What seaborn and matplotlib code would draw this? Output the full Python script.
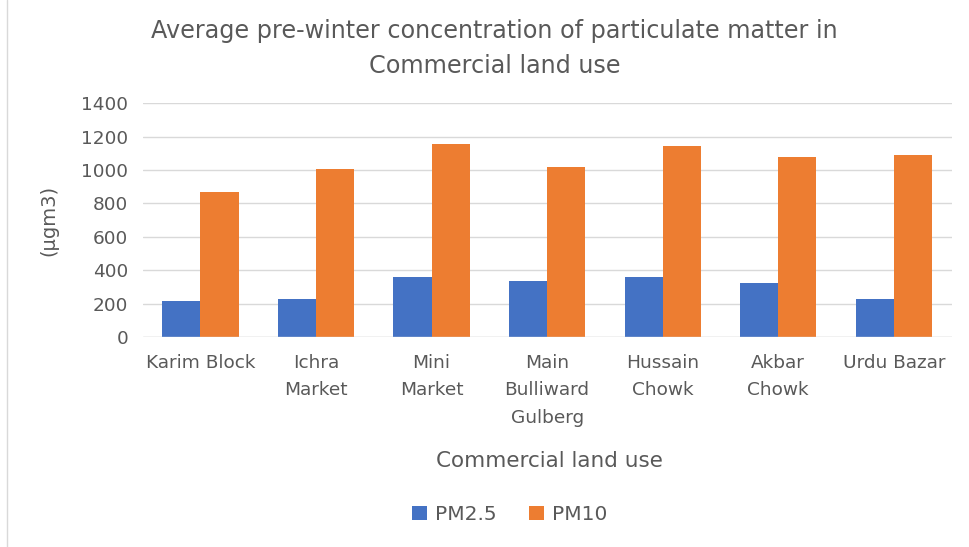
import matplotlib.pyplot as plt
import seaborn as sns
import pandas as pd

# Data
sites = ["Karim Block", "Ichra\nMarket", "Mini\nMarket", "Main\nBulliward\nGulberg",
         "Hussain\nChowk", "Akbar\nChowk", "Urdu Bazar"]
pm25 = [216, 226, 358, 336, 358, 326, 228]
pm10 = [866, 1008, 1156, 1018, 1144, 1078, 1088]
series = ["PM2.5", "PM10"]
colors = ["#4472C4", "#ED7D31"]

df = pd.DataFrame({"site": sites * 2,
                   "value": pm25 + pm10,
                   "series": [series[0]] * len(sites) + [series[1]] * len(sites)})

sns.set_theme(style="white")
plt.rcParams["font.family"] = ["DejaVu Sans"]
gray = "#595959"

fig = plt.figure(figsize=(9.7, 5.47), dpi=100)
ax = fig.add_axes([0.147, 0.384, 0.834, 0.427])

sns.barplot(data=df, x="site", y="value", hue="series", palette=colors,
            width=0.66, gap=0, saturation=1, linewidth=0, ax=ax, zorder=3)

ax.set_ylim(0, 1400)
ax.set_yticks(range(0, 1401, 200))
ax.set_xlim(-0.5, len(sites) - 0.5)
ax.grid(axis="y", color="#D9D9D9", linewidth=1, zorder=0)
ax.axhline(0, color="#D9D9D9", linewidth=1, zorder=4)
for s in ax.spines.values():
    s.set_visible(False)
ax.tick_params(axis="both", length=0, colors=gray, labelsize=13.3)
ax.tick_params(axis="y", pad=10.5)
ax.tick_params(axis="x", pad=12)
for lbl in ax.get_xticklabels():
    lbl.set_linespacing(1.68)
    lbl.set_verticalalignment("top")

ax.set_ylabel("(µgm3)", color=gray, fontsize=14, labelpad=16)
ax.set_xlabel("")
fig.text(0.566, 0.157, "Commercial land use", ha="center", va="center",
         color=gray, fontsize=15.5)
fig.text(0.51, 0.911, "Average pre-winter concentration of particulate matter in\nCommercial land use",
         ha="center", va="center", color=gray, fontsize=17.2, linespacing=1.6)

ax.legend(loc="center", bbox_to_anchor=(0.454, -0.76), ncol=2, frameon=False,
          fontsize=14.5, labelcolor=gray, handlelength=0.75, handleheight=0.75,
          columnspacing=1.6, handletextpad=0.4)

fig.add_artist(plt.Line2D([0.007, 0.007], [0.0, 1.0], color="#D9D9D9", linewidth=1))

fig.savefig("out.png", dpi=100, facecolor="white")
